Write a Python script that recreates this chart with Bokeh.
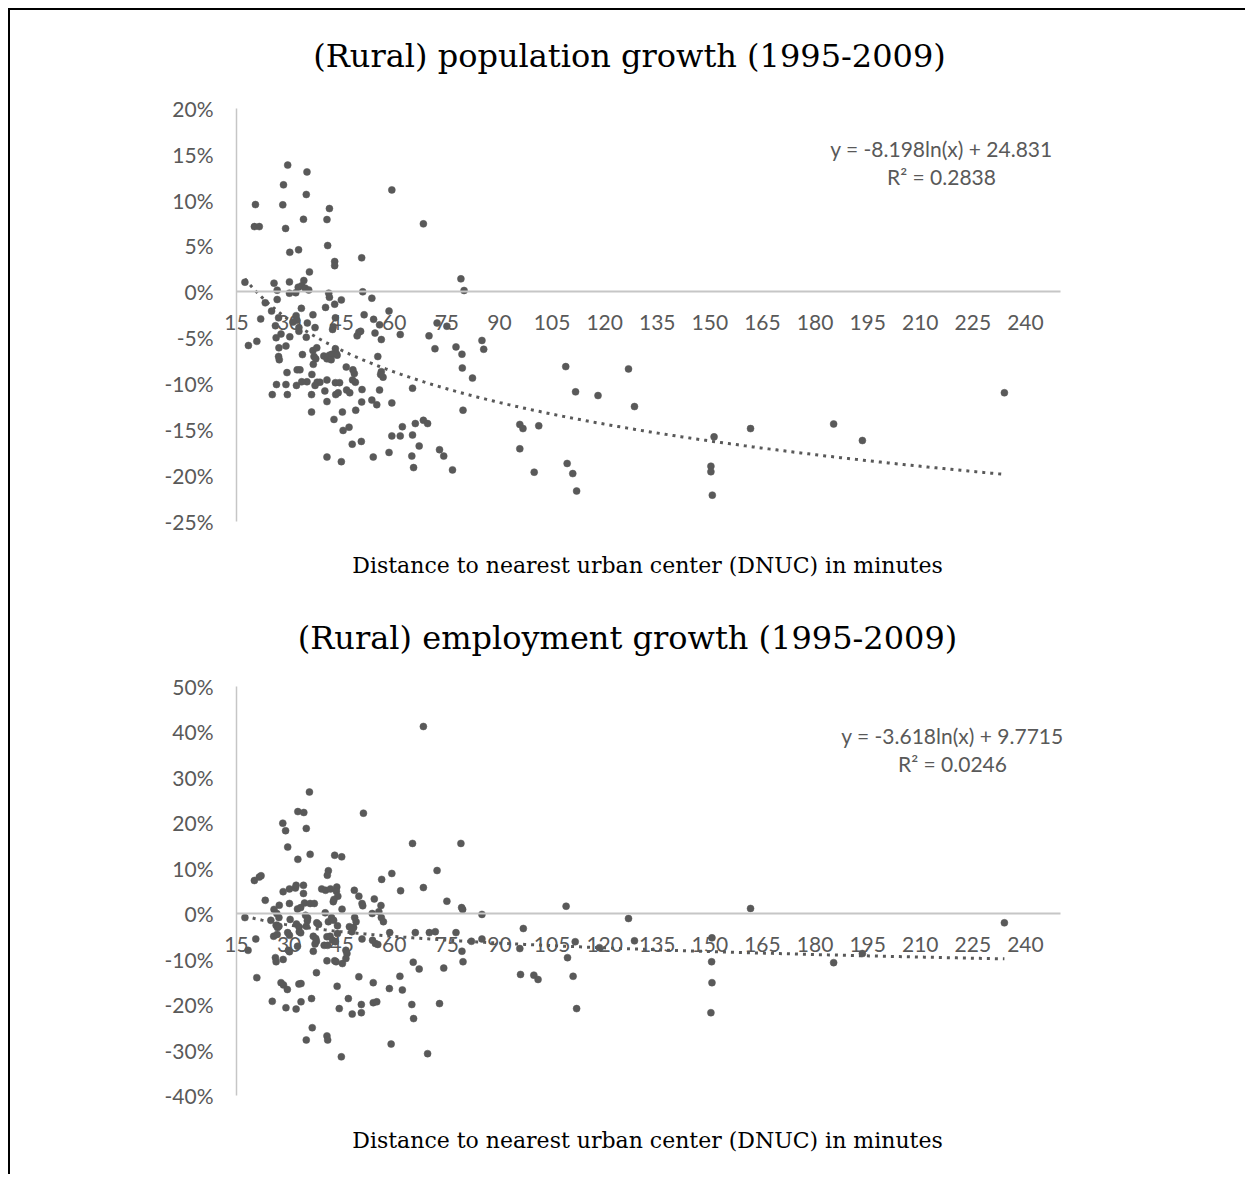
import numpy as np
from bokeh.plotting import figure
from bokeh.models import FixedTicker, Label, PrintfTickFormatter, Range1d
from bokeh.layouts import column
from bokeh.embed import file_html
from bokeh.resources import INLINE

# ---------------- data ----------------
X_TICKS = [15, 30, 45, 60, 75, 90, 105, 120, 135, 150, 165, 180, 195, 210, 225, 240]
X_MIN, X_MAX = 15, 250
POP_Y_TICKS = [-25, -20, -15, -10, -5, 0, 5, 10, 15, 20]
EMP_Y_TICKS = [-40, -30, -20, -10, 0, 10, 20, 30, 40, 50]

POP_TITLE = "(Rural) population growth (1995-2009)"
EMP_TITLE = "(Rural) employment growth (1995-2009)"
X_TITLE = "Distance to nearest urban center (DNUC) in minutes"

POP_EQ = "y = -8.198ln(x) + 24.831"
POP_R2_TEXT = "R\u00b2 = 0.2838"
POP_A, POP_B = -8.198, 24.831
EMP_EQ = "y = -3.618ln(x) + 9.7715"
EMP_R2_TEXT = "R\u00b2 = 0.0246"
EMP_A, EMP_B = -3.618, 9.7715

# population growth (%), distance (minutes)
pop_x = [17.4, 20.4, 20.1, 21.5, 18.4, 20.8, 21.9, 23.2, 25.0, 25.2, 25.7, 26.6, 26.6, 27.0,
         29.6, 35.1, 28.4, 34.9, 28.2, 41.5, 29.0, 34.1, 40.8, 59.3, 68.3, 30.2, 32.7, 41.0,
         43.0, 43.0, 50.7, 35.8, 79.0, 79.9, 30.1, 34.2, 32.6, 33.6, 34.6, 35.6, 30.1, 31.9,
         41.3, 41.5, 51.0, 53.6, 43.0, 44.9, 40.4, 33.5, 32.0, 32.2, 36.8, 58.5, 61.7, 51.4,
         54.1, 55.8, 43.2, 31.1, 32.8, 32.8, 35.2, 37.4, 34.9, 26.1, 27.7, 26.3, 30.2, 27.1,
         27.0, 27.2, 29.1, 42.4, 42.6, 49.4, 49.9, 50.4, 54.5, 56.3, 69.9, 72.2, 75.0, 71.6,
         77.6, 79.3, 79.4, 85.0, 85.5, 82.3, 79.6, 43.2, 43.4, 36.8, 37.1, 37.6, 37.9, 39.9,
         40.8, 41.5, 42.2, 42.0, 43.7, 33.8, 36.9, 55.3, 56.3, 56.8, 56.1, 29.4, 32.3, 33.1,
         36.5, 38.0, 38.8, 37.4, 35.1, 33.6, 32.1, 26.4, 29.1, 29.5, 36.4, 40.8, 40.2, 43.2,
         44.4, 43.3, 44.0, 46.3, 48.2, 48.6, 48.1, 48.9, 46.4, 47.3, 50.8, 55.8, 40.8, 50.7,
         53.6, 55.0, 59.3, 65.2, 36.4, 42.8, 45.2, 49.0, 45.4, 47.1, 48.0, 50.6, 40.8, 44.9,
         54.0, 58.5, 59.3, 61.7, 62.3, 65.2, 66.0, 68.3, 69.5, 67.1, 65.0, 65.5, 72.9, 74.1,
         76.6, 95.8, 96.7, 101.2, 95.8, 99.9, 108.9, 111.7, 109.3, 110.9, 112.0, 118.1, 126.8,
         128.5, 151.2, 150.3, 150.3, 150.7, 161.6, 185.3, 193.5, 234.0]
pop_y = [1.05, 9.5, 7.1, 7.1, -5.85, -5.4, -2.95, -1.2, -2.1, -11.2, 0.94, 0.18, -0.84, -2.84,
         13.8, 13.06, 11.65, 10.6, 9.47, 9.07, 6.9, 7.9, 7.87, 11.1, 7.4, 4.3, 4.57, 5.04,
         3.3, 2.85, 3.7, 2.17, 1.41, 0.14, 1.08, 1.23, 0.5, 0.65, 0.4, 0.2, -0.15, -0.1,
         -0.15, -0.6, 0.0, -0.7, -1.35, -0.88, -1.7, -1.8, -2.6, -3.1, -2.5, -2.1, -4.65, -2.5,
         -3.0, -3.6, -2.84, -3.3, -3.9, -4.3, -3.4, -3.9, -4.95, -3.7, -4.6, -5.0, -4.9, -6.1,
         -7.05, -7.4, -5.9, -4.1, -3.8, -4.8, -4.4, -4.3, -4.5, -5.2, -4.8, -3.4, -3.75, -6.2,
         -6.0, -6.8, -8.3, -5.3, -6.26, -9.4, -12.9, -6.2, -6.7, -6.4, -7.05, -7.3, -6.1, -7.0,
         -7.3, -6.9, -6.8, -7.4, -6.9, -6.84, -7.9, -7.05, -8.7, -9.3, -9.0, -8.8, -8.5, -8.5,
         -9.0, -9.85, -9.85, -10.2, -9.8, -9.8, -10.2, -10.1, -10.1, -11.2, -11.2, -9.6, -10.8, -9.9,
         -9.9, -11.2, -11.0, -8.2, -8.5, -8.9, -9.6, -9.85, -10.7, -11.0, -10.65, -10.7, -11.96, -12.0,
         -11.8, -12.3, -12.1, -10.5, -13.1, -13.9, -13.1, -12.9, -15.1, -14.75, -16.6, -16.3, -18.0, -18.5,
         -18.0, -17.5, -15.7, -15.7, -14.7, -15.6, -14.35, -14.0, -14.35, -16.8, -17.9, -19.15, -17.2, -17.9,
         -19.4, -14.45, -14.9, -14.6, -17.1, -19.65, -8.15, -10.9, -18.7, -19.8, -21.7, -11.3, -8.4,
         -12.5, -15.8, -19.0, -19.6, -22.15, -14.9, -14.4, -16.2, -11.0]

# employment growth (%), distance (minutes)
emp_x = [68.3, 35.8, 32.5, 34.2, 51.2, 28.2, 29.0, 34.9, 29.6, 65.2, 79.0, 32.5, 36.0, 43.0,
         45.0, 72.2, 59.3, 56.4, 41.2, 40.9, 20.1, 21.5, 22.0, 68.3, 61.8, 75.0, 23.2, 28.3,
         30.1, 31.8, 32.0, 34.1, 34.1, 39.3, 40.4, 41.8, 43.6, 43.5, 43.9, 48.6, 49.9, 54.3,
         50.8, 51.0, 56.2, 79.2, 79.5, 109.0, 27.2, 30.1, 34.4, 36.0, 37.2, 42.6, 42.8, 32.4,
         33.3, 25.7, 26.5, 27.1, 17.4, 24.8, 34.7, 35.3, 35.2, 30.3, 26.3, 26.7, 27.1, 32.1,
         32.8, 37.9, 38.4, 40.3, 41.2, 42.1, 42.7, 45.1, 48.7, 49.1, 53.7, 55.6, 56.3, 56.9,
         43.8, 47.2, 47.9, 48.4, 34.9, 25.6, 26.6, 29.6, 30.1, 32.9, 33.3, 36.9, 37.6, 37.8,
         37.4, 40.8, 41.7, 42.4, 43.2, 43.8, 40.0, 41.0, 36.9, 46.2, 46.5, 50.8, 53.8, 54.6,
         55.3, 58.7, 66.0, 70.0, 71.7, 77.6, 79.3, 79.6, 82.0, 85.0, 85.0, 96.8, 95.8, 96.0,
         99.8, 101.0, 109.4, 111.6, 111.0, 112.0, 18.3, 20.5, 20.8, 26.1, 26.3, 28.3, 29.8, 30.1,
         32.4, 25.2, 27.7, 28.4, 29.5, 29.1, 32.0, 32.8, 33.4, 33.4, 36.4, 37.8, 36.6, 34.9,
         40.8, 41.0, 44.9, 43.7, 44.3, 46.9, 48.0, 49.9, 50.6, 50.6, 54.0, 54.0, 55.0, 58.6,
         61.6, 62.3, 65.0, 65.4, 67.1, 65.5, 59.1, 69.5, 72.9, 74.1, 43.0, 43.4, 40.8, 45.2,
         46.2, 126.8, 128.5, 118.5, 150.6, 150.5, 150.6, 150.3, 161.6, 185.3, 193.5, 234.0]
emp_y = [41.1, 26.7, 22.4, 22.2, 22.05, 19.85, 18.2, 18.7, 14.6, 15.4, 15.4, 11.9, 13.0, 12.8,
         12.45, 9.45, 8.8, 7.5, 9.4, 8.4, 7.25, 8.0, 8.3, 5.7, 5.0, 2.7, 2.9, 4.8,
         5.4, 5.6, 6.2, 6.2, 4.4, 5.4, 5.1, 5.4, 5.8, 4.9, 3.8, 5.1, 3.8, 3.2,
         2.2, 1.7, 1.75, 1.3, 0.9, 1.6, 1.8, 2.2, 2.3, 2.2, 2.2, 2.6, 3.1, 1.0,
         1.3, 0.9, 0.0, -0.9, -0.9, -1.5, -0.4, -1.0, -1.6, -1.3, -2.6, -3.1, -2.8, -2.3,
         -2.9, -2.05, -2.4, 0.15, -1.8, -0.9, -1.5, 0.95, -0.9, -1.8, 0.0, 0.4, -0.9, -1.8,
         -2.7, -2.9, -4.0, -3.1, -2.8, -5.0, -4.6, -4.2, -4.8, -4.0, -4.25, -5.0, -5.5, -6.1,
         -6.7, -5.1, -5.0, -5.9, -6.2, -4.4, -7.0, -7.0, -8.3, -8.1, -8.8, -5.6, -5.9, -6.6,
         -6.8, -4.2, -4.2, -4.2, -4.0, -4.2, -8.3, -10.6, -6.1, -5.6, -0.2, -3.3, -7.7, -13.4,
         -13.55, -14.5, -9.7, -6.2, -13.8, -20.9, -8.1, -5.6, -14.1, -9.7, -10.6, -10.1, -8.1, -8.4,
         -7.2, -19.3, -15.2, -15.7, -16.7, -20.7, -21.0, -15.5, -15.4, -19.4, -18.7, -13.0, -25.1, -27.8,
         -26.9, -27.8, -31.5, -16.0, -20.9, -18.7, -22.1, -13.9, -20.0, -21.8, -15.2, -19.6, -19.4, -16.5,
         -13.8, -16.8, -20.0, -10.7, -12.2, -23.1, -28.7, -30.8, -19.8, -12.0, -10.4, -10.6, -10.4, -11.0,
         -9.9, -1.1, -6.0, -7.5, -5.35, -10.6, -15.2, -21.8, 1.1, -10.8, -8.8, -2.05]

# ---------------- layout (page pixels) ----------------
DOT = "#595959"
AXIS_GRAY = "#c6c6c6"
TICK_FONT = "Lato"
SERIF = "DejaVu Serif"
BORDER = 2
PAGE_LEFT = 8 + BORDER          # left edge of the canvases on the page
W = 1235                        # canvas width
PLOT_LEFT_PX = 236.0            # page x of x = X_MIN
PLOT_RIGHT_PX = 1060.0          # page x of x = X_MAX
PX_PER_X = (PLOT_RIGHT_PX - PLOT_LEFT_PX) / (X_MAX - X_MIN)


def x_at(px):
    return X_MIN + (px - PLOT_LEFT_PX) / PX_PER_X


def make_chart(xs, ys, yticks, a, b, eq, r2txt, title,
               canvas_top, height, ytop_px, ybot_px,
               title_px, xtitle_px, eq_px, eq_py1, eq_py2):
    y0, y1 = yticks[0], yticks[-1]
    per = (ybot_px - ytop_px) / (y1 - y0)          # pixels per percent

    def y_at(py):
        return y1 - (py - ytop_px) / per

    p = figure(width=W, height=height, output_backend="svg", toolbar_location=None,
               x_range=Range1d(x_at(PAGE_LEFT), x_at(PAGE_LEFT + W)),
               y_range=Range1d(y_at(canvas_top + height), y_at(canvas_top)),
               min_border_left=0, min_border_right=0,
               min_border_top=0, min_border_bottom=0)
    p.outline_line_color = None
    p.grid.grid_line_color = None
    p.background_fill_color = "white"
    p.border_fill_color = "white"

    xa = p.xaxis[0]
    xa.fixed_location = 0
    xa.bounds = (X_MIN, X_MAX)
    xa.ticker = FixedTicker(ticks=X_TICKS)
    xa.axis_line_color = AXIS_GRAY
    xa.axis_line_width = 2
    xa.major_tick_line_color = None
    xa.minor_tick_line_color = None
    xa.major_tick_out = 0
    xa.major_tick_in = 0
    xa.major_label_standoff = 23
    xa.major_label_text_font = TICK_FONT
    xa.major_label_text_font_size = "21px"
    xa.major_label_text_color = DOT

    ya = p.yaxis[0]
    ya.fixed_location = X_MIN
    ya.bounds = (y0, y1)
    ya.ticker = FixedTicker(ticks=yticks)
    ya.formatter = PrintfTickFormatter(format="%d%%")
    ya.axis_line_color = AXIS_GRAY
    ya.axis_line_width = 1.5
    ya.major_tick_line_color = None
    ya.minor_tick_line_color = None
    ya.major_tick_out = 0
    ya.major_tick_in = 0
    ya.major_label_standoff = 23
    ya.major_label_text_font = TICK_FONT
    ya.major_label_text_font_size = "21px"
    ya.major_label_text_color = DOT

    # trendline from the chart's own equation, over the data's range
    tx = np.linspace(min(xs), max(xs), 400)
    ty = a * np.log(tx) + b
    p.line(tx, ty, line_color=DOT, line_width=3, line_dash="3 5")

    p.scatter(xs, ys, size=7, fill_color=DOT, line_color=DOT, line_width=0.5)

    p.add_layout(Label(x=x_at(title_px[0]), y=y_at(title_px[1]), text=title,
                       text_font=SERIF, text_font_size="32px",
                       text_align="center", text_baseline="middle", text_color="black"))
    p.add_layout(Label(x=x_at(xtitle_px[0]), y=y_at(xtitle_px[1]), text=X_TITLE,
                       text_font=SERIF, text_font_size="22px",
                       text_align="center", text_baseline="middle", text_color="black"))
    p.add_layout(Label(x=x_at(eq_px), y=y_at(eq_py1), text=eq, text_font=TICK_FONT,
                       text_font_size="21px", text_align="center", text_baseline="middle",
                       text_color=DOT))
    p.add_layout(Label(x=x_at(eq_px), y=y_at(eq_py2), text=r2txt, text_font=TICK_FONT,
                       text_font_size="21px", text_align="center", text_baseline="middle",
                       text_color=DOT))
    return p


TOP_CANVAS = 8 + BORDER
H1 = 588
H2 = 576

p1 = make_chart(pop_x, pop_y, POP_Y_TICKS, POP_A, POP_B, POP_EQ, POP_R2_TEXT, POP_TITLE,
                canvas_top=TOP_CANVAS, height=H1, ytop_px=107.7, ybot_px=520.8,
                title_px=(629, 55), xtitle_px=(647, 565),
                eq_px=941, eq_py1=148, eq_py2=176)
p2 = make_chart(emp_x, emp_y, EMP_Y_TICKS, EMP_A, EMP_B, EMP_EQ, EMP_R2_TEXT, EMP_TITLE,
                canvas_top=TOP_CANVAS + H1, height=H2, ytop_px=685.5, ybot_px=1095.0,
                title_px=(627, 637), xtitle_px=(647, 1140),
                eq_px=952, eq_py1=735, eq_py2=763)

layout = column(p1, p2, spacing=0,
                styles={"margin-left": "8px", "margin-top": "8px",
                        "border-top": "2px solid black", "border-left": "2px solid black"})

open("out.html", "w").write(file_html(layout, INLINE))
